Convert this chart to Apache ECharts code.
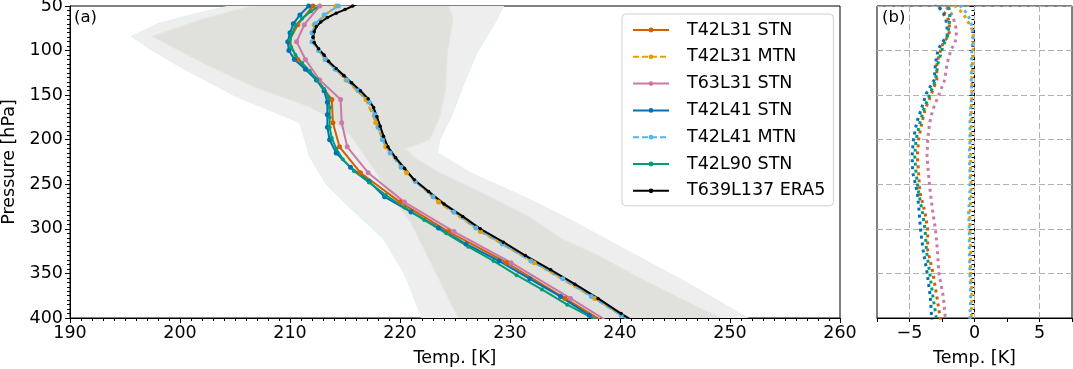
<!DOCTYPE html>
<html>
<head>
<meta charset="utf-8">
<script src="https://cdn.jsdelivr.net/npm/echarts@6/dist/echarts.min.js"></script>
<style>
  html, body { margin: 0; padding: 0; background: #fff; }
  #chart { width: 1073px; height: 369px; }
</style>
</head>
<body>
<div id="chart"></div>
<script>
// pressure levels (hPa) per model
const levL31 = [40, 50, 71, 90, 110, 133, 155, 181, 208, 237, 270, 303, 338, 378, 420];
const levL41 = [40, 50, 60, 70, 80, 90, 100, 110, 121, 133, 145, 158, 172, 186, 200, 215, 231, 247, 264, 281, 299, 317, 336, 356, 376, 397, 420];
const levL90 = [40, 48, 56, 64, 72, 80, 88, 96, 105, 114, 123, 133, 143, 153, 164, 175, 186, 198, 210, 222, 235, 248, 262, 276, 290, 305, 320, 336, 352, 368, 385, 402, 420];
const levEra5 = [45, 50, 54, 58, 63, 68, 73, 79, 85, 91, 98, 105, 112, 120, 128, 136, 145, 154, 164, 174, 185, 196, 208, 220, 232, 245, 258, 272, 286, 300, 315, 330, 346, 362, 378, 395, 412];

// temperature profiles (K), panel (a)
const t42l31Stn = [213.2, 212.1, 210.7, 209.9, 210.7, 212.5, 213.8, 213.9, 214.5, 216.4, 220.0, 224.4, 229.7, 235.0, 240.6];
const t42l31Mtn = [214.9, 214.2, 212.2, 212.1, 213.2, 215.1, 216.9, 217.8, 218.7, 220.6, 223.5, 227.3, 232.2, 237.7, 243.1];
const t63l31Stn = [213.5, 212.7, 211.3, 210.6, 211.4, 212.7, 214.6, 214.7, 215.2, 217.1, 220.4, 224.9, 230.1, 235.5, 241.0];
const t42l41Stn = [212.8, 211.7, 210.9, 210.3, 210.0, 209.8, 209.9, 210.4, 211.4, 212.4, 213.1, 213.4, 213.4, 213.4, 213.6, 214.2, 215.5, 217.2, 218.6, 221.0, 223.5, 226.0, 229.0, 231.8, 234.6, 237.2, 240.2];
const t42l41Mtn = [215.5, 214.4, 213.1, 212.3, 212.0, 212.0, 212.6, 213.2, 214.1, 215.2, 216.2, 217.2, 217.7, 218.0, 218.4, 219.1, 220.1, 221.4, 223.0, 224.9, 226.9, 229.3, 231.9, 234.8, 237.4, 240.1, 243.0];
const t42l90Stn = [213.8, 212.9, 211.9, 211.1, 210.5, 210.2, 210.0, 210.1, 210.5, 211.1, 211.8, 212.5, 213.1, 213.5, 213.6, 213.6, 213.6, 213.8, 214.2, 214.8, 215.8, 217.2, 218.7, 220.4, 222.2, 224.2, 226.2, 228.5, 230.6, 232.9, 235.2, 237.8, 240.4];
const era5 = [216.6, 215.7, 215.0, 214.2, 213.4, 212.8, 212.4, 212.2, 212.1, 212.2, 212.6, 213.1, 213.5, 214.2, 214.9, 215.6, 216.4, 217.1, 217.6, 217.9, 218.2, 218.5, 218.9, 219.6, 220.4, 221.3, 222.6, 224.0, 225.7, 227.3, 229.4, 231.4, 233.7, 235.9, 238.0, 240.1, 242.3];

// spread envelopes (K), panel (a)
const outerLeftP = [40, 50, 60, 70, 84, 100, 118, 135, 152, 170, 181, 219, 250, 280, 311, 350, 400, 420];
const outerLeftT = [205.5, 204.5, 201.0, 198.0, 195.6, 197.5, 200.0, 202.6, 205.2, 208.8, 210.9, 211.8, 213.3, 215.8, 218.5, 220.4, 222.0, 222.8];
const outerRightP = [40, 50, 65, 102, 140, 170, 200, 215, 237, 267, 290, 320, 360, 400, 420];
const outerRightT = [230.0, 229.4, 228.8, 227.0, 225.7, 224.8, 223.6, 223.4, 226.4, 231.8, 235.5, 240.0, 246.0, 251.6, 254.5];
const innerLeftP = [40, 50, 65, 84, 114, 142, 163, 174, 195, 230, 260, 293, 350, 400, 420];
const innerLeftT = [208.0, 206.5, 202.0, 197.5, 202.1, 207.0, 211.8, 213.4, 215.5, 217.5, 219.0, 221.0, 223.3, 225.3, 226.2];
const innerRightP = [40, 50, 65, 102, 147, 174, 200, 210, 222, 237, 260, 287, 310, 330, 360, 400, 420];
const innerRightT = [224.6, 224.4, 224.8, 224.3, 224.1, 223.6, 222.7, 220.5, 221.5, 223.6, 227.5, 231.8, 234.5, 238.0, 242.5, 249.1, 252.0];

// differences to ERA5 (K), panel (b)
const diffP = [45, 50, 58, 65, 76, 84, 91, 99, 114, 133, 148, 166, 181, 200, 218, 237, 259, 282, 301, 324, 349, 376, 399, 405];
const dT42l31Stn = [-3.1, -2.8, -2.3, -2.0, -1.9, -2.0, -2.4, -2.6, -2.9, -2.9, -3.3, -3.8, -4.05, -4.3, -4.4, -4.3, -4.2, -3.8, -3.6, -3.6, -3.2, -2.9, -2.65, -2.6];
const dT42l31Mtn = [-2.0, -1.5, -0.9, -0.6, -0.2, -0.1, -0.1, -0.1, -0.15, -0.2, -0.2, -0.25, -0.25, -0.3, -0.3, -0.3, -0.25, -0.35, -0.35, -0.3, -0.3, -0.2, -0.25, -0.25];
const dT63l31Stn = [-2.5, -2.25, -1.8, -1.6, -1.4, -1.4, -1.5, -1.8, -2.1, -2.3, -2.7, -3.2, -3.45, -3.6, -3.65, -3.55, -3.4, -3.2, -3.0, -2.85, -2.75, -2.4, -2.25, -2.2];
const dT42l41Stn = [-3.0, -2.8, -2.4, -2.2, -2.1, -2.1, -2.5, -2.8, -3.0, -3.1, -3.7, -4.1, -4.45, -4.7, -4.8, -4.75, -4.4, -4.25, -4.15, -3.95, -3.65, -3.4, -3.3, -3.25];
const dT42l41Mtn = [-1.6, -1.1, -0.6, -0.35, -0.15, -0.1, -0.15, -0.2, -0.25, -0.25, -0.2, -0.3, -0.35, -0.35, -0.4, -0.35, -0.35, -0.45, -0.4, -0.4, -0.35, -0.3, -0.35, -0.35];
const dT42l90Stn = [-2.3, -2.0, -1.9, -1.9, -2.0, -2.1, -2.3, -2.5, -2.8, -3.0, -3.4, -3.9, -4.2, -4.5, -4.6, -4.5, -4.3, -4.0, -3.8, -3.7, -3.45, -3.2, -2.95, -2.9];

const gridLines = [-5, 0, 5];

const FONT = 'DejaVu Sans';
const FS = 17.5;

const zip = (a, b) => a.map((v, i) => [v, b[i]]);

function profile(name, t, p, color, dashed, size) {
  return {
    name: name,
    type: 'line',
    xAxisIndex: 0,
    yAxisIndex: 0,
    data: zip(t, p),
    symbol: 'circle',
    symbolSize: size,
    showAllSymbol: true,
    clip: true,
    z: 3,
    itemStyle: { color: color },
    lineStyle: { color: color, width: 2, type: dashed ? [6, 3] : 'solid' }
  };
}

function diffLine(name, d, color) {
  return {
    name: name,
    type: 'line',
    xAxisIndex: 1,
    yAxisIndex: 1,
    data: zip(d, diffP),
    symbol: 'none',
    clip: true,
    z: 3,
    lineStyle: { color: color, width: 3, type: [3, 4] }
  };
}

function band(lt, lp, rt, rp, fill, stroke) {
  const ring = zip(lt, lp).concat(zip(rt, rp).reverse());
  return {
    type: 'custom',
    xAxisIndex: 0,
    yAxisIndex: 0,
    silent: true,
    clip: true,
    z: 1,
    data: ring,
    renderItem: function (params, api) {
      if (params.dataIndex !== 0) return null;
      const pts = ring.map(d => api.coord(d));
      return {
        type: 'polygon',
        shape: { points: pts },
        style: { fill: fill, stroke: stroke, lineWidth: 1.2 }
      };
    }
  };
}

const c = {
  l31stn: '#d55e00', l31mtn: '#e69f00', t63: '#cc79a7',
  l41stn: '#0072b2', l41mtn: '#56b4e9', l90: '#009e73', era: '#000000'
};

const axisText = { color: '#000', fontFamily: FONT, fontSize: FS };
const blackLine = { show: true, lineStyle: { color: '#000', width: 1 } };

const chart = echarts.init(document.getElementById('chart'), null, { renderer: 'canvas' });
chart.setOption({
  animation: false,
  backgroundColor: '#fff',
  textStyle: { fontFamily: FONT },
  title: [
    { text: '(a)', left: 74, top: 9, padding: 0, textStyle: { fontSize: FS - 1, fontWeight: 'normal', color: '#000', fontFamily: FONT } },
    { text: '(b)', left: 882, top: 9, padding: 0, textStyle: { fontSize: FS - 1, fontWeight: 'normal', color: '#000', fontFamily: FONT } }
  ],
  legend: {
    left: 622,
    top: 14,
    orient: 'vertical',
    data: ['T42L31 STN', 'T42L31 MTN', 'T63L31 STN', 'T42L41 STN', 'T42L41 MTN', 'T42L90 STN', 'T639L137 ERA5'],
    itemWidth: 36,
    itemHeight: 6,
    itemGap: 8.8,
    padding: [7, 8, 6, 10],
    backgroundColor: 'rgba(255,255,255,0.8)',
    borderColor: '#d0d0d0',
    borderWidth: 1,
    borderRadius: 4,
    selectedMode: false,
    textStyle: { color: '#000', fontFamily: FONT, fontSize: FS, lineHeight: 18, padding: [0, 0, 0, 13] }
  },
  grid: [
    { left: 70, top: 6, width: 770, height: 312, show: true, borderColor: '#000', borderWidth: 1, backgroundColor: 'transparent', containLabel: false, outerBoundsMode: 'none' },
    { left: 877, top: 6, width: 195, height: 312, show: true, borderColor: '#000', borderWidth: 1, backgroundColor: 'transparent', containLabel: false, outerBoundsMode: 'none' }
  ],
  xAxis: [
    {
      gridIndex: 0, type: 'value', min: 190, max: 260, interval: 10,
      name: 'Temp. [K]', nameLocation: 'middle', nameGap: 31, nameTextStyle: axisText,
      axisLine: blackLine,
      axisTick: { show: true, length: 5, lineStyle: { color: '#000' } },
      minorTick: { show: true, splitNumber: 10, length: 3, lineStyle: { color: '#000' } },
      axisLabel: Object.assign({ margin: 6 }, axisText),
      splitLine: { show: false }
    },
    {
      gridIndex: 1, type: 'value', min: -7.5, max: 7.5, interval: 2.5,
      name: 'Temp. [K]', nameLocation: 'middle', nameGap: 31, nameTextStyle: axisText,
      axisLine: blackLine,
      axisTick: { show: true, length: 4, lineStyle: { color: '#000' } },
      axisLabel: Object.assign({
        margin: 6,
        formatter: v => (v % 5 === 0 ? (v < 0 ? '\u2212' + Math.abs(v) : String(v)) : '')
      }, axisText),
      splitLine: { show: false }
    }
  ],
  yAxis: [
    {
      gridIndex: 0, type: 'value', inverse: true, min: 50, max: 400, interval: 50,
      name: 'Pressure [hPa]', nameLocation: 'middle', nameGap: 52, nameRotate: 90, nameTextStyle: axisText,
      axisLine: blackLine,
      axisTick: { show: true, length: 5, lineStyle: { color: '#000' } },
      minorTick: { show: true, splitNumber: 10, length: 3, lineStyle: { color: '#000' } },
      axisLabel: Object.assign({ margin: 7 }, axisText),
      splitLine: { show: false }
    },
    {
      gridIndex: 1, type: 'value', inverse: true, min: 50, max: 400, interval: 50,
      axisLine: blackLine,
      axisTick: { show: true, length: 5, lineStyle: { color: '#000' } },
      minorTick: { show: true, splitNumber: 10, length: 3, lineStyle: { color: '#000' } },
      axisLabel: { show: false },
      splitLine: { show: true, lineStyle: { color: '#b0b0b0', width: 1, type: [6, 3] } }
    }
  ],
  series: [
    band(outerLeftT, outerLeftP, outerRightT, outerRightP, '#eeeeee', '#e4f0f2'),
    band(innerLeftT, innerLeftP, innerRightT, innerRightP, '#e0e0dc', '#e6e4df'),
    profile('T42L31 STN', t42l31Stn, levL31, c.l31stn, false, 5),
    profile('T42L31 MTN', t42l31Mtn, levL31, c.l31mtn, true, 5),
    profile('T63L31 STN', t63l31Stn, levL31, c.t63, false, 5),
    profile('T42L41 STN', t42l41Stn, levL41, c.l41stn, false, 5),
    profile('T42L41 MTN', t42l41Mtn, levL41, c.l41mtn, true, 5),
    profile('T42L90 STN', t42l90Stn, levL90, c.l90, false, 4),
    profile('T639L137 ERA5', era5, levEra5, c.era, false, 3.5),
    {
      type: 'line', xAxisIndex: 1, yAxisIndex: 1, data: [], z: 1, silent: true,
      markLine: {
        silent: true, symbol: 'none', label: { show: false },
        lineStyle: { color: '#b0b0b0', width: 1, type: [6, 3] },
        data: gridLines.map(v => ({ xAxis: v }))
      }
    },
    diffLine('T42L31 STN', dT42l31Stn, c.l31stn),
    diffLine('T42L31 MTN', dT42l31Mtn, c.l31mtn),
    diffLine('T63L31 STN', dT63l31Stn, c.t63),
    diffLine('T42L41 STN', dT42l41Stn, c.l41stn),
    diffLine('T42L41 MTN', dT42l41Mtn, c.l41mtn),
    diffLine('T42L90 STN', dT42l90Stn, c.l90)
  ]
});
</script>
</body>
</html>
